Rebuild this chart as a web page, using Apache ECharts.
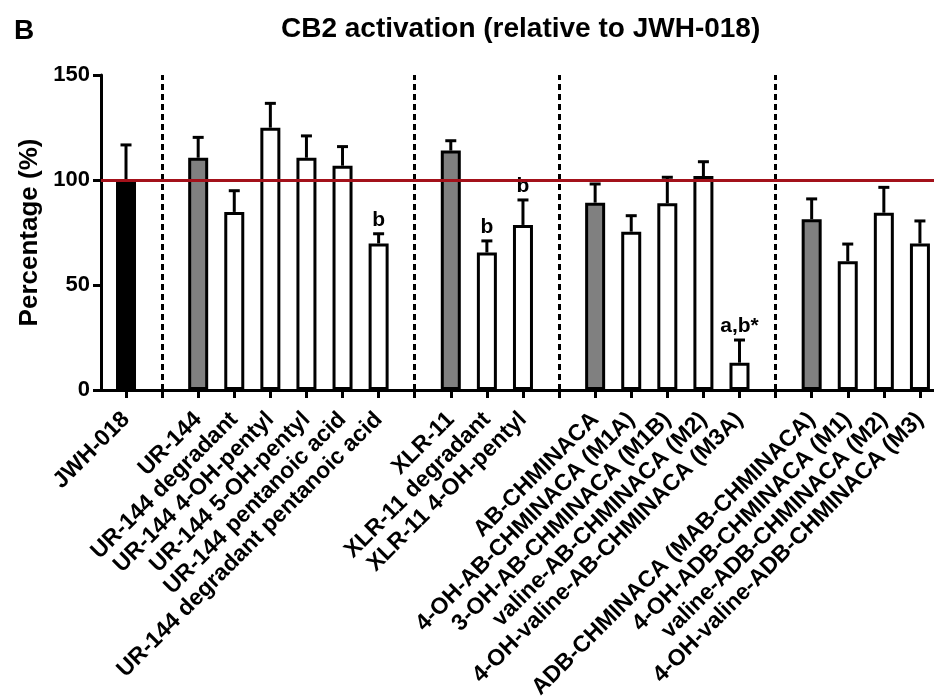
<!DOCTYPE html>
<html>
<head>
<meta charset="utf-8">
<script src="https://cdn.jsdelivr.net/npm/echarts@6/dist/echarts.min.js"></script>
<style>html,body{margin:0;padding:0;background:#fff}#c{width:934px;height:698px}</style>
</head>
<body>
<div id="c"></div>
<script>
// Slots on the x axis ('' = gap slot holding a dashed separator)
const categories = ['JWH-018', '', 'UR-144', 'UR-144 degradant', 'UR-144 4-OH-pentyl', 'UR-144 5-OH-pentyl',
  'UR-144 pentanoic acid', 'UR-144 degradant pentanoic acid', '', 'XLR-11', 'XLR-11 degradant',
  'XLR-11 4-OH-pentyl', '', 'AB-CHMINACA', '4-OH-AB-CHMINACA (M1A)', '3-OH-AB-CHMINACA (M1B)',
  'valine-AB-CHMINACA (M2)', '4-OH-valine-AB-CHMINACA (M3A)', '', 'ADB-CHMINACA (MAB-CHMINACA)',
  '4-OH-ADB-CHMINACA (M1)', 'valine-ADB-CHMINACA (M2)', '4-OH-valine-ADB-CHMINACA (M3)'];
const values = [100, null, 110.6, 84.8, 124.9, 110.6, 106.8, 69.8, null, 114, 65.5, 78.6, null,
  89.2, 75.4, 88.9, 101.9, 13, null, 81.3, 61.3, 84.4, 69.8];
const errors = [16.7, null, 9.7, 10.1, 11.6, 10.4, 9.1, 4.6, null, 4.7, 5.5, 11.9, null,
  8.9, 7.6, 12.4, 6.8, 10.8, null, 9.7, 8.2, 12.1, 10.7];
const fills = ['black', null, 'grey', 'white', 'white', 'white', 'white', 'white', null, 'grey', 'white',
  'white', null, 'grey', 'white', 'white', 'white', 'white', null, 'grey', 'white', 'white', 'white'];
const sigLabels = ['', '', '', '', '', '', '', 'b', '', '', 'b', 'b', '', '', '', '', '', 'a,b*', '', '', '', '', ''];
const separators = [1, 8, 12, 18];
const yTicks = [0, 50, 100, 150];
const referenceLevel = 100;

const FONT = '"Liberation Sans", Arial, Helvetica, sans-serif';
const fillColor = { black: '#000000', grey: '#808080', white: '#ffffff' };

const barData = [];
const errData = [];
categories.forEach((c, i) => {
  if (values[i] == null) return;
  barData.push({ value: [i, values[i]], itemStyle: { color: fillColor[fills[i]] } });
  errData.push([i, values[i], errors[i]]);
});
const labelSlots = categories.map((c, i) => c ? i : null).filter(v => v !== null);
const allSlots = categories.map((c, i) => i);

const chart = echarts.init(document.getElementById('c'), null, { renderer: 'canvas' });
chart.setOption({
  animation: false,
  backgroundColor: '#ffffff',
  title: [
    { text: 'B', left: 9, top: 12, textStyle: { fontFamily: FONT, fontWeight: 'bold', fontSize: 28, color: '#000' } },
    { text: 'CB2 activation (relative to JWH-018)', left: 276, top: 10,
      textStyle: { fontFamily: FONT, fontWeight: 'bold', fontSize: 28, color: '#000' } }
  ],
  grid: { left: 101, right: 0, top: 75, bottom: 308, containLabel: false, outerBoundsMode: 'none' },
  xAxis: {
    type: 'value',
    min: -0.693,
    max: 22.39,
    splitLine: { show: false },
    axisLine: { show: true, onZero: false, lineStyle: { color: '#000', width: 3 } },
    axisTick: { show: true, customValues: allSlots, length: 8, lineStyle: { color: '#000', width: 3 } },
    axisLabel: {
      customValues: labelSlots,
      rotate: 45,
      margin: 26,
      fontFamily: FONT, fontWeight: 'bold', fontSize: 23, color: '#000',
      formatter: v => categories[Math.round(v)] || ''
    }
  },
  yAxis: {
    type: 'value',
    min: yTicks[0],
    max: yTicks[yTicks.length - 1],
    interval: yTicks[1] - yTicks[0],
    name: 'Percentage (%)',
    nameLocation: 'middle',
    nameGap: 56,
    nameRotate: 90,
    nameTextStyle: { fontFamily: FONT, fontWeight: 'bold', fontSize: 26, color: '#000' },
    splitLine: { show: false },
    axisLine: { show: true, onZero: false, lineStyle: { color: '#000', width: 3 } },
    axisTick: { show: true, length: 8, lineStyle: { color: '#000', width: 3 } },
    axisLabel: { margin: 11, fontFamily: FONT, fontWeight: 'bold', fontSize: 22, color: '#000' }
  },
  series: [
    {
      type: 'bar',
      data: barData,
      barWidth: 20,
      itemStyle: { borderColor: '#000', borderWidth: 3 },
      emphasis: { disabled: true },
      silent: true,
      z: 2,
      markLine: {
        silent: true,
        symbol: 'none',
        label: { show: false },
        emphasis: { disabled: true },
        data: [
          ...separators.map(s => ({ xAxis: s, lineStyle: { color: '#000', width: 3, type: [6, 4] } })),
          { yAxis: referenceLevel, lineStyle: { color: '#a3111a', width: 3, type: 'solid' } }
        ]
      }
    },
    {
      type: 'custom',
      data: errData,
      silent: true,
      clip: false,
      z: 3,
      renderItem: function (params, api) {
        const i = api.value(0), v = api.value(1), e = api.value(2);
        const p0 = api.coord([i, v]);
        const p1 = api.coord([i, v + e]);
        const cap = 5.5;
        const ls = { stroke: '#000', lineWidth: 3 };
        const children = [
          { type: 'line', shape: { x1: p0[0], y1: p0[1], x2: p1[0], y2: p1[1] }, style: ls },
          { type: 'line', shape: { x1: p1[0] - cap, y1: p1[1], x2: p1[0] + cap, y2: p1[1] }, style: ls }
        ];
        const s = sigLabels[i];
        if (s) {
          children.push({ type: 'text', style: { text: s, x: p1[0], y: p1[1] - 3, align: 'center',
            verticalAlign: 'bottom', font: 'bold 21px ' + FONT, fill: '#000' } });
        }
        return { type: 'group', children };
      }
    }
  ]
});
</script>
</body>
</html>
